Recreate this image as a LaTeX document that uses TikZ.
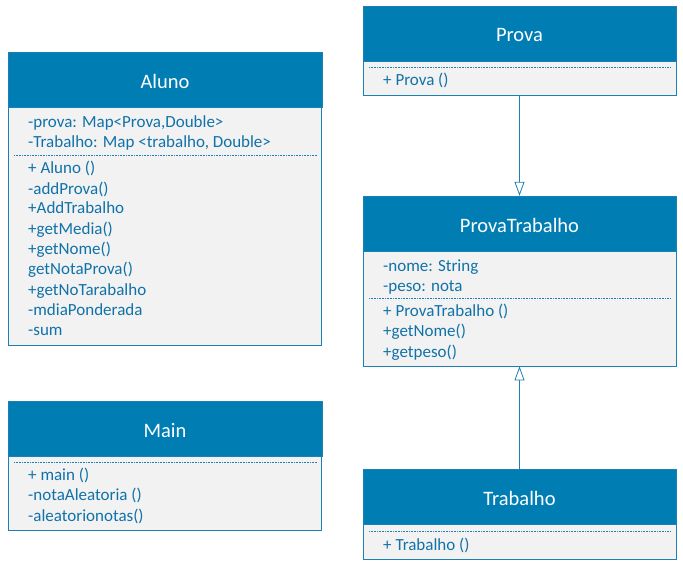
\documentclass[tikz,border=0pt]{standalone}
\usepackage{fontspec}
\setmainfont{Carlito}
\usetikzlibrary{arrows.meta}
\definecolor{umlblue}{RGB}{0,126,180}
\definecolor{umlline}{RGB}{28,128,180}
\definecolor{umlgray}{RGB}{242,242,242}
\definecolor{umltext}{RGB}{16,114,168}
\begin{document}
\begin{tikzpicture}[x=1pt,y=-1pt,
    head/.style={rectangle,fill=umlblue,draw=umlline,text=white,
      font=\fontsize{20.5}{24}\selectfont,minimum width=313pt,
      minimum height=55pt,inner sep=0pt,text height=17pt,text depth=0pt},
    body/.style={rectangle,fill=umlgray,draw=umlline,minimum width=313pt,
      anchor=north,inner sep=0pt},
    item/.style={text=umltext,anchor=west,inner sep=0pt,text height=11pt,
      text depth=3pt,yshift=-2pt,font=\fontsize{17}{20}\selectfont},
    sep/.style={umlline,densely dotted,line width=0.6pt},
    inherit/.style={umlline,line width=0.8pt,
      -{Triangle[open,width=10pt,length=14pt,fill=white]}}]
  \useasboundingbox (0,0) rectangle (683,567);
  % Aluno
  \draw
    (165,107) node[body,minimum height=238pt] (alunob){}
    (165,80) node[head,minimum width=314pt] (aluno){Aluno};
  \draw[sep] (14,155) -- (317,155);
  \draw
    (28,122) node[item] (a1){-prova: Map<Prova,Double>}
    (28,142) node[item] (a2){-Trabalho: Map <trabalho, Double>}
    (28,168) node[item] (a3){+ Aluno ()}
    (28,188) node[item] (a4){-addProva()}
    (28,208) node[item] (a5){+AddTrabalho}
    (28,228) node[item] (a6){+getMedia()}
    (28,248) node[item] (a7){+getNome()}
    (28,268) node[item] (a8){getNotaProva()}
    (28,289) node[item] (a9){+getNoTarabalho}
    (28,309) node[item] (a10){-mdiaPonderada}
    (28,329) node[item] (a11){-sum};
  % Main
  \draw
    (165,456) node[body,minimum height=74pt] (mainb){}
    (165,428.5) node[head,minimum width=314pt] (main){Main};
  \draw[sep] (14,462) -- (317,462);
  \draw
    (28,474) node[item] (m1){+ main ()}
    (28,494) node[item] (m2){-notaAleatoria ()}
    (28,515) node[item] (m3){-aleatorionotas()};
  % Prova
  \draw
    (519.5,61) node[body,minimum height=34pt] (provab){}
    (519.5,33.5) node[head] (prova){Prova};
  \draw[sep] (369,67) -- (671,67);
  \draw (383,80) node[item] (p1){+ Prova ()};
  % ProvaTrabalho
  \draw
    (519.5,251) node[body,minimum height=115pt] (ptb){}
    (519.5,223.5) node[head] (pt){ProvaTrabalho};
  \draw[sep] (369,298) -- (671,298);
  \draw
    (383,265) node[item] (t1){-nome: String}
    (383,285) node[item] (t2){-peso: nota}
    (383,310) node[item] (t3){+ ProvaTrabalho ()}
    (383,330) node[item] (t4){+getNome()}
    (383,351) node[item] (t5){+getpeso()};
  % Trabalho
  \draw
    (519.5,524) node[body,minimum height=35pt] (trabb){}
    (519.5,497) node[head] (trab){Trabalho};
  \draw[sep] (369,531) -- (671,531);
  \draw (383,544) node[item] (w1){+ Trabalho ()};
  % heranca
  \draw[inherit] (provab.south) to (pt.north);
  \draw[inherit] (trab.north) to (ptb.south);
\end{tikzpicture}
\end{document}
